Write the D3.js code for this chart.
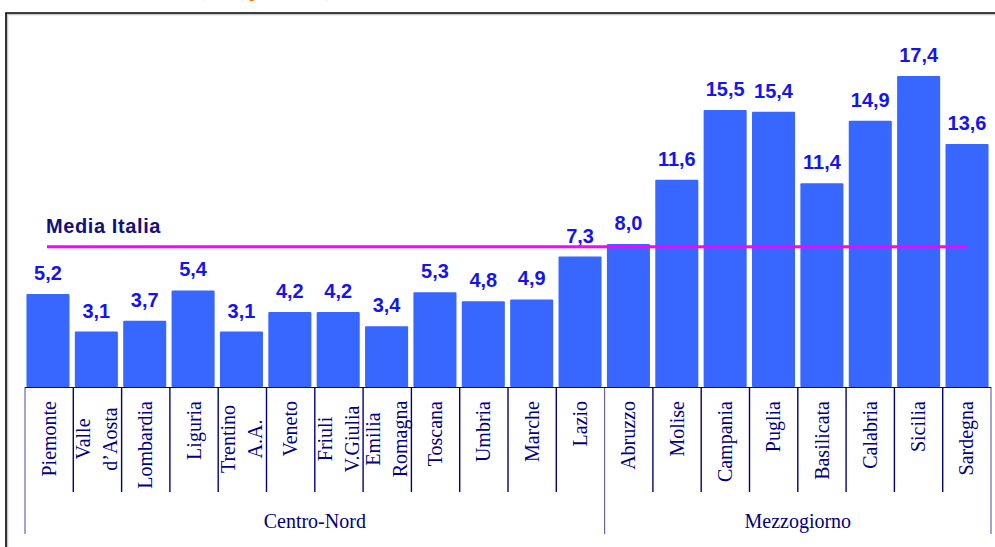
<!DOCTYPE html>
<html>
<head>
<meta charset="utf-8">
<script src="https://cdn.jsdelivr.net/npm/d3@7"></script>
<style>
html,body{margin:0;padding:0;background:#fff;overflow:hidden;}
</style>
</head>
<body>
<script>
// ---- data ----
const regions = ["Piemonte","Valle d'Aosta","Lombardia","Liguria","Trentino A.A.","Veneto","Friuli V.Giulia","Emilia Romagna","Toscana","Umbria","Marche","Lazio","Abruzzo","Molise","Campania","Puglia","Basilicata","Calabria","Sicilia","Sardegna"];
const labelLines = [["Piemonte"],["Valle","d’Aosta"],["Lombardia"],["Liguria"],["Trentino","A.A."],["Veneto"],["Friuli","V.Giulia"],["Emilia","Romagna"],["Toscana"],["Umbria"],["Marche"],["Lazio"],["Abruzzo"],["Molise"],["Campania"],["Puglia"],["Basilicata"],["Calabria"],["Sicilia"],["Sardegna"]];
const values = [5.2,3.1,3.7,5.4,3.1,4.2,4.2,3.4,5.3,4.8,4.9,7.3,8.0,11.6,15.5,15.4,11.4,14.9,17.4,13.6];
const mediaItalia = 7.85;
const groups = [{name:"Centro-Nord", first:"Piemonte", last:"Lazio"},{name:"Mezzogiorno", first:"Abruzzo", last:"Sardegna"}];

const W = 995, H = 547;
const svg = d3.select("body").append("svg").attr("width", W).attr("height", H);

// frame
svg.append("path").attr("d","M7.5,1000 V14.5 H1000").attr("fill","none").attr("stroke","#c8c8c8").attr("stroke-width",1.5);
svg.append("path").attr("d","M6,1000 V13 H1000").attr("fill","none").attr("stroke","#000").attr("stroke-width",1.6);

// title, cut off by the top edge in the reference
svg.append("text").attr("x",266).attr("y",-3.5).attr("text-anchor","middle")
  .attr("font-family","Liberation Serif, serif").attr("font-weight","bold").attr("font-size",16)
  .attr("fill","#ff6a00").text("(valori percentuali)");

const baseY = 387;
const y = d3.scaleLinear().domain([0, 20]).range([baseY, baseY - 357.5]);
const xSep = d3.scaleBand().domain(regions).range([25, 991]).padding(0);
const xBar = d3.scaleBand().domain(regions).range([23.8, 991.2]).paddingInner(0.11).paddingOuter(0.055);

// bars
svg.append("g").selectAll("rect").data(values).join("rect")
  .attr("x",(d,i)=>xBar(regions[i]))
  .attr("y",d=>y(d))
  .attr("width",xBar.bandwidth())
  .attr("height",d=>baseY - y(d))
  .attr("rx",1)
  .attr("fill","#3767fe");

// value labels
svg.append("g").selectAll("text").data(values).join("text")
  .attr("x",(d,i)=>xBar(regions[i]) + xBar.bandwidth()/2)
  .attr("y",d=>y(d) - 14)
  .attr("text-anchor","middle")
  .attr("font-family","Liberation Sans, Arial, sans-serif")
  .attr("font-weight","bold").attr("font-size",20)
  .attr("fill","#1414f0")
  .text(d=>d3.format(".1f")(d).replace(".",","));

// media line
svg.append("line").attr("x1",47).attr("x2",968).attr("y1",y(mediaItalia)).attr("y2",y(mediaItalia))
  .attr("stroke","#ff00ff").attr("stroke-width",3);
svg.append("text").attr("x",46).attr("y",233)
  .attr("font-family","Liberation Sans, Arial, sans-serif").attr("font-weight","bold").attr("font-size",20)
  .attr("letter-spacing",0.6)
  .attr("fill","#10107e").text("Media Italia");

// axis lines
const axisColor = "#000080";
svg.append("line").attr("x1",25).attr("x2",991).attr("y1",baseY+0.5).attr("y2",baseY+0.5).attr("stroke",axisColor).attr("stroke-width",1);
const groupEdges = new Set([0, regions.indexOf("Abruzzo"), regions.length]);
const sepIdx = d3.range(regions.length + 1);
svg.append("g").selectAll("line").data(sepIdx).join("line")
  .attr("x1",i=> i < regions.length ? xSep(regions[i]) : xSep.range()[1])
  .attr("x2",i=> i < regions.length ? xSep(regions[i]) : xSep.range()[1])
  .attr("y1",baseY)
  .attr("y2",i=> groupEdges.has(i) ? 534 : 492)
  .attr("stroke",axisColor).attr("stroke-width",i=> groupEdges.has(i) ? 1.2 : 1.4)
  .attr("stroke-opacity",i=> groupEdges.has(i) ? 0.6 : 1);

// category labels (rotated)
const catG = svg.append("g").attr("font-family","Liberation Serif, Times New Roman, serif").attr("font-size",20).attr("fill",axisColor);
labelLines.forEach((lines,i)=>{
  const cx = xSep(regions[i]) + xSep.bandwidth()/2;
  if(lines.length === 1){
    catG.append("text")
      .attr("transform",`translate(${cx},401) rotate(-90)`)
      .attr("text-anchor","end").attr("dy","0.33em")
      .text(lines[0]);
  } else {
    lines.forEach((t,j)=>{
      const off = j === 0 ? -14 : 13;
      catG.append("text")
        .attr("transform",`translate(${cx+off},439) rotate(-90)`)
        .attr("text-anchor","middle").attr("dy","0.33em")
        .text(t);
    });
  }
});

// group labels
groups.forEach(g=>{
  const x0 = xSep(g.first), x1 = xSep(g.last) + xSep.bandwidth();
  catG.append("text").attr("x",(x0+x1)/2).attr("y",528).attr("text-anchor","middle").text(g.name);
});
</script>
</body>
</html>
